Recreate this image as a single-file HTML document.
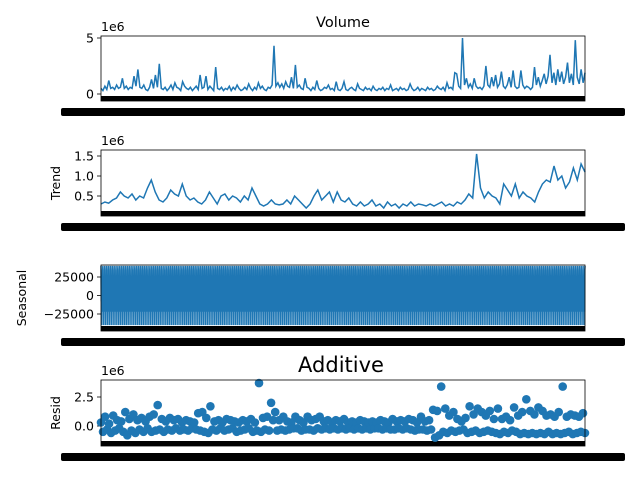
<!DOCTYPE html>
<html><head><meta charset="utf-8"><style>
html,body{margin:0;padding:0;background:#fff;}
svg{display:block;font-family:"DejaVu Sans","Liberation Sans",sans-serif;}
</style></head><body>
<svg id="c" width="640" height="480" xmlns="http://www.w3.org/2000/svg"></svg>
<script>
const volume=[0.5,0.3,0.7,0.4,1.2,0.5,0.6,0.4,0.8,0.5,0.6,1.4,0.5,0.7,0.4,0.6,0.5,1.6,0.7,2.2,0.6,0.5,0.8,0.4,0.3,0.6,1.3,0.5,1.7,0.6,
2.7,0.5,0.4,0.6,0.3,0.5,0.8,0.4,1.0,0.6,0.5,0.3,1.1,0.7,0.5,0.4,0.6,0.3,0.5,0.7,0.4,1.7,0.5,0.6,1.6,0.4,0.7,0.5,0.3,2.4,0.5,0.4,0.6,0.3,0.5,0.4,0.7,0.3,0.6,0.4,0.8,0.5,0.3,0.4,0.6,
0.4,0.9,0.5,0.3,0.6,0.4,1.0,0.5,0.7,0.4,0.3,0.6,0.5,0.8,4.3,0.7,1.0,0.6,0.9,0.5,1.1,0.7,0.6,1.5,0.5,2.6,0.6,0.8,0.5,0.4,1.4,0.6,0.5,0.3,0.6,0.4,1.2,0.5,0.3,0.4,0.6,0.5,0.8,0.4,0.5,0.3,1.1,0.4,0.3,0.5,
1.1,0.4,0.3,0.5,0.6,0.4,0.3,0.9,0.5,0.4,0.3,0.6,0.4,0.5,0.3,0.7,0.4,0.3,0.5,0.4,0.6,0.3,0.5,0.4,0.8,0.3,0.4,0.5,0.3,0.6,0.4,0.5,0.3,0.4,0.9,0.5,0.3,0.4,0.6,0.3,0.5,0.4,0.3,0.6,0.4,0.5,0.3,0.4,0.7,0.5,0.4,0.6,0.3,1.0,0.5,
0.6,0.4,1.9,1.8,0.7,0.5,5.0,0.8,1.4,0.6,0.9,0.5,1.4,0.7,0.5,0.6,0.4,0.7,2.5,0.8,0.6,1.5,0.7,1.7,0.6,0.9,2.0,0.7,0.5,0.8,1.5,0.6,2.1,0.7,0.5,0.6,2.1,0.8,0.5,0.7,0.6,0.4,0.6,2.4,0.8,1.5,0.7,1.2,1.8,0.9,1.6,3.5,1.0,1.9,0.8,2.2,1.1,2.0,0.9,1.5,2.8,1.0,1.8,0.8,4.8,1.5,0.9,2.2,1.0,1.9];
const trend=[0.3,0.35,0.32,0.4,0.45,0.6,0.5,0.45,0.55,0.4,0.5,0.45,0.7,0.9,0.6,0.4,0.35,0.45,0.65,0.55,0.5,0.8,0.5,0.4,0.45,0.35,0.3,0.4,0.6,0.45,0.3,0.5,0.55,0.4,0.5,0.45,0.35,0.5,0.4,0.7,0.5,0.3,0.25,0.3,0.4,0.3,0.28,0.3,0.4,0.3,0.5,0.4,0.3,0.2,0.3,0.5,0.65,0.4,0.5,0.6,0.35,0.6,0.4,0.35,0.45,0.3,0.25,0.35,0.25,0.3,0.4,0.25,0.3,0.2,0.35,0.25,0.3,0.2,0.3,0.25,0.35,0.25,0.3,0.28,0.25,0.3,0.25,0.3,0.35,0.25,0.3,0.25,0.35,0.3,0.4,0.55,0.45,1.55,0.7,0.45,0.6,0.5,0.45,0.3,0.8,0.65,0.5,0.8,0.45,0.6,0.5,0.45,0.35,0.6,0.8,0.9,0.85,1.25,0.9,1.0,0.7,0.85,1.2,0.9,1.3,1.1];
const seasonalPattern=[40000,-8000,22000,-40000,12000,-22000,34000];
const seasonalCount=1800;
const resid=[0.3,-0.5,0.8,-0.3,0.2,-0.6,0.9,-0.4,0.5,-0.2,0.4,-0.5,1.2,-0.8,0.6,-0.4,1.0,-0.6,0.5,-0.3,0.7,-0.5,0.4,-0.2,0.8,-0.5,1.0,-0.4,1.8,-0.3,0.6,-0.5,0.4,-0.3,0.7,-0.4,0.5,-0.2,0.6,-0.4,0.3,-0.3,0.5,-0.4,0.4,-0.2,0.3,-0.3,1.1,-0.4,1.2,-0.5,0.7,-0.6,1.7,-0.3,0.4,-0.4,0.5,-0.2,
0.3,-0.4,0.6,-0.3,0.5,-0.2,0.4,-0.5,0.3,-0.4,0.5,-0.3,0.4,-0.2,0.6,-0.5,0.3,-0.4,3.7,-0.5,0.7,-0.3,0.8,-0.4,2.0,0.5,1.2,-0.4,0.5,-0.3,0.8,-0.4,0.4,-0.3,0.3,-0.2,0.8,-0.2,0.5,-0.4,0.3,-0.3,0.8,-0.3,0.5,-0.4,0.6,-0.2,0.8,-0.3,0.4,-0.2,0.5,-0.3,0.3,-0.2,0.5,-0.3,0.4,-0.2,
0.6,-0.3,0.3,-0.2,0.4,-0.3,0.3,-0.2,0.5,-0.3,0.4,-0.2,0.3,-0.3,0.4,-0.2,0.3,-0.2,0.5,-0.3,0.4,-0.2,0.3,-0.3,0.6,-0.3,0.4,-0.2,0.5,-0.3,0.4,-0.2,0.6,-0.3,0.5,-0.4,0.3,-0.3,0.8,-0.3,0.4,-0.4,0.5,-0.3,1.4,-1.0,1.3,-0.8,3.4,-0.5,1.5,-0.6,0.9,-0.4,1.2,-0.5,0.6,-0.4,0.4,-0.3,
0.7,-0.6,1.7,-0.5,1.0,-0.4,1.5,-0.6,1.2,-0.5,0.9,-0.4,1.3,-0.5,0.6,-0.6,1.5,-0.7,0.6,-0.5,0.8,-0.6,0.5,-0.4,1.6,-0.5,0.9,-0.7,1.2,-0.6,2.3,-0.7,1.3,-0.6,1.0,-0.7,1.6,-0.6,1.3,-0.7,0.9,-0.5,1.0,-0.7,0.8,-0.6,1.2,-0.7,3.4,-0.6,0.8,-0.5,1.0,-0.7,0.9,-0.6,0.8,-0.5,1.1,-0.6];
const volTicks=[0,5], trendTicks=[0.5,1.0,1.5], seasTicks=[-25000,0,25000], residTicks=[0,2.5];

const svg=document.getElementById('c');
const NS='http://www.w3.org/2000/svg';
function mk(t,a,p){const e=document.createElementNS(NS,t);for(const k in a)e.setAttribute(k,a[k]);(p||svg).appendChild(e);return e;}
const X0=101,X1=585,BLUE='#1f77b4';
function xs(i,n){return X0+ (X1-X0)*i/(n-1);}
function panel(name,top,bot,ymap,ticks,fmt,label,sci){
  const g=mk('g',{});
  
  
  const band=mk('rect',{x:X0,y:bot-5,width:X1-X0,height:5,fill:'#000'},g);
  
  
  const lb=mk('rect',{x:61,y:bot+7,width:564,height:8,rx:2,fill:'#000'},g);
  
  
  ticks.forEach(v=>{
    const y=ymap(v);
    mk('line',{x1:X0-4,x2:X0,y1:y,y2:y,stroke:'#000','stroke-width':0.8},g);
    const t=mk('text',{x:X0-7,y:y+4.5,'text-anchor':'end','font-size':12.5},g);
    t.textContent=fmt(v);
    
    
  });
  if(label){const t=mk('text',{x:0,y:0,'font-size':12.5,'text-anchor':'middle',transform:`translate(${label[1]},${(top+bot)/2}) rotate(-90)`},g);t.textContent=label[0];
    }
  if(sci){const t=mk('text',{x:X0,y:top-5,'font-size':12.5},g);t.textContent='1e6';
    }
  return g;
}
function frame(top,bot,name){const r=mk('rect',{x:X0,y:top,width:X1-X0,height:bot-top,fill:'none',stroke:'#000','stroke-width':0.8});
  }

// Volume
const yV=v=>94-v*11.2;
panel('volume',36,101,yV,volTicks,v=>String(v),null,true);
let d=volume.map((v,i)=>(i?'L':'M')+xs(i,volume.length).toFixed(1)+','+yV(v).toFixed(1)).join('');
let p=mk('path',{d,fill:'none',stroke:BLUE,'stroke-width':1.5});

frame(36,101,'volume');
let tt=mk('text',{x:343,y:27,'font-size':14.5,'text-anchor':'middle'});tt.textContent='Volume';


// Trend
const yT=v=>216-v*40;
panel('trend',150,216,yT,trendTicks,v=>v.toFixed(1),['Trend',60],true);
d=trend.map((v,i)=>(i?'L':'M')+xs(i,trend.length).toFixed(1)+','+yT(v).toFixed(1)).join('');
p=mk('path',{d,fill:'none',stroke:BLUE,'stroke-width':1.5});

frame(150,216,'trend');

// Seasonal
const yS=v=>295.5-v*0.00074;
panel('seasonal',265,331,yS,seasTicks,v=>v<0?'\u2212'+Math.abs(v):String(v),['Seasonal',26],false);
let sd='';for(let i=0;i<seasonalCount;i++){sd+=(i?'L':'M')+xs(i,seasonalCount).toFixed(2)+','+yS(seasonalPattern[i%seasonalPattern.length]).toFixed(1);}
p=mk('path',{d:sd,fill:'none',stroke:BLUE,'stroke-width':1.5});

frame(265,331,'seasonal');

// Resid
const yR=v=>426-v*11.6;
panel('resid',380,446,yR,residTicks,v=>v.toFixed(1),['Resid',60],true);
const rg=mk('g',{fill:BLUE});

resid.forEach((v,i)=>{const c=mk('circle',{cx:xs(i,resid.length).toFixed(1),cy:yR(v).toFixed(1),r:4.3},rg);
  });
frame(380,446,'resid');
let at=mk('text',{x:341,y:372,'font-size':21,'text-anchor':'middle'});at.textContent='Additive';

</script>
</body></html>
